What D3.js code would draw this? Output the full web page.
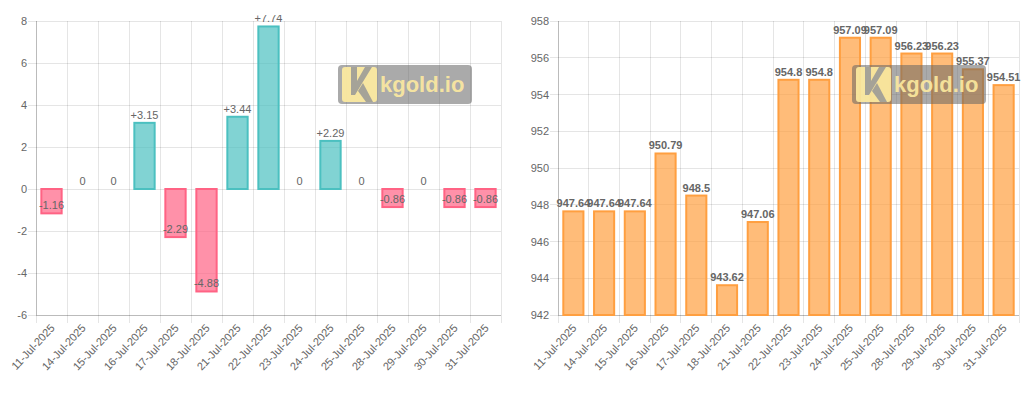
<!DOCTYPE html>
<html><head><meta charset="utf-8">
<script src="https://cdn.jsdelivr.net/npm/d3@7"></script>
<style>
html,body{margin:0;padding:0;background:#fff;}
svg{display:block;font-family:"Liberation Sans",Arial,Helvetica,sans-serif;}
</style></head>
<body>
<svg id="c" width="1024" height="394"></svg>
<script>
const categories = ["11-Jul-2025","14-Jul-2025","15-Jul-2025","16-Jul-2025","17-Jul-2025","18-Jul-2025","21-Jul-2025","22-Jul-2025","23-Jul-2025","24-Jul-2025","25-Jul-2025","28-Jul-2025","29-Jul-2025","30-Jul-2025","31-Jul-2025"];
const changeValues = [-1.16,0,0,3.15,-2.29,-4.88,3.44,7.74,0,2.29,0,-0.86,0,-0.86,-0.86];
const priceValues = [947.64,947.64,947.64,950.79,948.5,943.62,947.06,954.8,954.8,957.09,957.09,956.23,956.23,955.37,954.51];
const changeTicks = [-6,-4,-2,0,2,4,6,8];
const priceTicks = [942,944,946,948,950,952,954,956,958];

const svg = d3.select("#c");
const GRID = "rgba(0,0,0,0.1)";
const TXT = "#666";

function drawChart(opt){
  const g = svg.append("g");
  const x = d3.scaleBand().domain(categories).range([opt.x0,opt.x1]);
  const y = d3.scaleLinear().domain(opt.domain).range([315,21]);
  const yT = y(opt.domain[1]), yB = y(opt.domain[0]);
  // horizontal grid
  g.selectAll(".hg").data(opt.ticks).enter().append("line")
    .attr("x1",opt.x0-8).attr("x2",opt.x1).attr("y1",d=>y(d)).attr("y2",d=>y(d))
    .attr("stroke",GRID).attr("stroke-width",1).attr("shape-rendering","crispEdges");
  // vertical grid at category boundaries
  const bounds = categories.map(c=>x(c)).concat([opt.x1]);
  g.selectAll(".vg").data(bounds).enter().append("line")
    .attr("x1",d=>d).attr("x2",d=>d).attr("y1",yT).attr("y2",yB+8)
    .attr("stroke",GRID).attr("stroke-width",1).attr("shape-rendering","crispEdges");
  // axis lines
  g.append("line").attr("x1",opt.x0).attr("x2",opt.x0).attr("y1",yT).attr("y2",yB)
    .attr("stroke","rgba(0,0,0,0.18)").attr("shape-rendering","crispEdges");
  g.append("line").attr("x1",opt.x0).attr("x2",opt.x1).attr("y1",yB).attr("y2",yB)
    .attr("stroke","rgba(0,0,0,0.18)").attr("shape-rendering","crispEdges");
  // y tick labels
  g.selectAll(".yl").data(opt.ticks).enter().append("text")
    .attr("x",opt.x0-9).attr("y",d=>y(d)+4).attr("text-anchor","end")
    .attr("font-size",11).attr("fill",TXT).text(d=>d);
  // x tick labels
  g.selectAll(".xl").data(categories).enter().append("text")
    .attr("transform",d=>`translate(${x(d)+x.bandwidth()/2+1},${yB+11}) rotate(-47)`)
    .attr("text-anchor","end").attr("dy","0.35em")
    .attr("font-size",11).attr("fill",TXT).text(d=>d);
  // bars
  const bw = x.bandwidth()*0.72;
  const vals = opt.values;
  const base = opt.base;
  g.selectAll(".bar").data(vals).enter().append("rect")
    .attr("x",(d,i)=>x(categories[i])+(x.bandwidth()-bw)/2+1)
    .attr("width",bw-2)
    .attr("y",d=>Math.min(y(d),y(base))+ (d===base?0:0))
    .attr("height",d=>Math.abs(y(d)-y(base)))
    .attr("fill",opt.fill).attr("stroke",opt.stroke).attr("stroke-width",2);
  // labels
  const clipId = "clip"+opt.x0;
  svg.append("clipPath").attr("id",clipId).append("rect")
    .attr("x",opt.x0-20).attr("y",opt.clipTop).attr("width",opt.x1-opt.x0+40).attr("height",394);
  g.append("g").attr("clip-path",`url(#${clipId})`)
    .selectAll(".lb").data(vals).enter().append("text")
    .attr("x",(d,i)=>x(categories[i])+x.bandwidth()/2)
    .attr("y",d=>(opt.labelAtEnd? y(d) : y(d)) - 4)
    .attr("text-anchor","middle").attr("font-size",11)
    .attr("font-weight",opt.bold?"bold":"normal")
    .attr("fill",TXT).text(opt.fmt);
  return g;
}

drawChart({
  x0:36,x1:501,domain:[-6,8],ticks:changeTicks,values:changeValues,base:0,
  fill:d=>d>=0?"rgba(75,192,192,0.7)":"rgba(255,99,132,0.7)",
  stroke:d=>d>=0?"rgb(75,192,192)":"rgb(255,99,132)",
  fmt:d=>d>0?"+"+d:String(d), bold:false, clipTop:15
});
drawChart({
  x0:558,x1:1019,domain:[942,958],ticks:priceTicks,values:priceValues,base:942,
  fill:"rgba(255,159,64,0.7)", stroke:"rgb(255,159,64)",
  fmt:d=>String(d), bold:true, clipTop:0
});

function watermark(bx,by){
  const w = svg.append("g").attr("transform",`translate(${bx},${by})`);
  w.append("rect").attr("width",134).attr("height",39).attr("rx",4)
    .attr("fill","rgba(100,100,100,0.55)");
  const lg = w.append("g").attr("transform","translate(4,2)");
  lg.append("rect").attr("width",35).attr("height",35).attr("rx",3).attr("fill","rgba(255,236,160,0.9)");
  // K negative space
  lg.append("path").attr("d","M9,3 L15,3 L15,17 L24,3 L31,3 L21,18 L31,33 L24,33 L15,20 L15,30 L9,30 Z")
    .attr("fill","rgba(100,100,100,0.0)");
  lg.append("path").attr("d","M9,0 L15,0 L15,14 L23,0 L30,0 L19,18 L13,28 L9,28 Z")
    .attr("fill","rgba(150,150,150,0.85)");
  lg.append("path").attr("d","M16,24 L21,16 L31,35 L24,35 Z")
    .attr("fill","rgba(150,150,150,0.85)");
  w.append("text").attr("x",42).attr("y",27).attr("font-size",22).attr("font-weight","bold")
    .attr("fill","rgba(255,236,160,0.9)").text("kgold.io");
}
watermark(338,65);
watermark(852,65);
</script>
</body></html>
